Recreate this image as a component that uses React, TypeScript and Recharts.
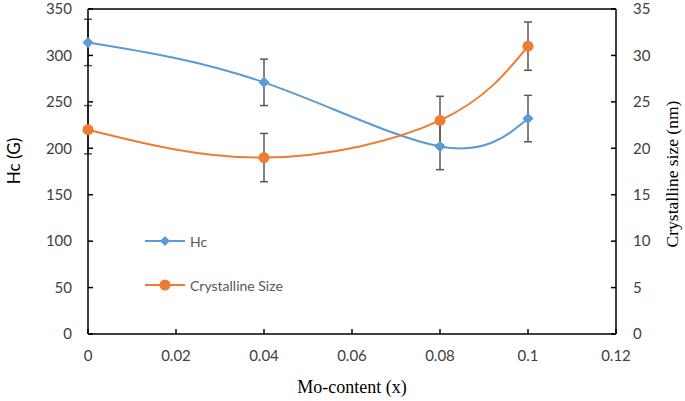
import React from 'react';
import { ComposedChart, Line, XAxis, YAxis, ErrorBar, ReferenceLine, Legend } from 'recharts';

const moContent = [0, 0.04, 0.08, 0.1];
const hcValues = [314, 271, 202, 232];
const hcErrors = [25, 25, 25, 25];
const sizeValues = [22, 19, 23, 31];
const sizeErrors = [2.6, 2.6, 2.6, 2.6];

const xTicks = [0, 0.02, 0.04, 0.06, 0.08, 0.1, 0.12];
const hcTicks = [0, 50, 100, 150, 200, 250, 300, 350];
const sizeTicks = [0, 5, 10, 15, 20, 25, 30, 35];

const BLUE = '#5B9BD5';
const ORANGE = '#ED7D31';
const TICK_FONT = { fontFamily: 'Lato', fontSize: 15, fill: '#404040' };

const data = moContent.map((x, i) => ({
  x,
  hc: hcValues[i],
  hcErr: hcErrors[i],
  size: sizeValues[i],
  sizeErr: sizeErrors[i],
}));

const Diamond = (props: any) => {
  const { cx, cy, index } = props;
  if (cx == null || cy == null) return <g key={`d-${index}`} />;
  return (
    <polygon
      key={`d-${index}`}
      points={`${cx},${cy - 5.5} ${cx + 5.5},${cy} ${cx},${cy + 5.5} ${cx - 5.5},${cy}`}
      fill={BLUE}
    />
  );
};

const Dot = (props: any) => {
  const { cx, cy, index } = props;
  if (cx == null || cy == null) return <g key={`c-${index}`} />;
  return <circle key={`c-${index}`} cx={cx} cy={cy} r={5.5} fill={ORANGE} />;
};

const LegendBox = () => (
  <div style={{ fontFamily: 'Lato', fontSize: 14, color: '#595959' }}>
    {[
      { name: 'Hc', color: BLUE, shape: 'diamond' },
      { name: 'Crystalline Size', color: ORANGE, shape: 'circle' },
    ].map((item) => (
      <div key={item.name} style={{ display: 'flex', alignItems: 'center', height: 20, marginBottom: 24 }}>
        <svg width={42} height={14} style={{ marginRight: 3 }}>
          <line x1={0} y1={7} x2={40} y2={7} stroke={item.color} strokeWidth={2} />
          {item.shape === 'diamond' ? (
            <polygon points="20,2 25,7 20,12 15,7" fill={item.color} />
          ) : (
            <circle cx={20} cy={7} r={5.5} fill={item.color} />
          )}
        </svg>
        <span>{item.name}</span>
      </div>
    ))}
  </div>
);

export default function App() {
  return (
    <div style={{ position: 'absolute', left: 0, top: 0, width: 685, height: 401, background: '#fff' }}>
      <ComposedChart width={685} height={401} data={data} margin={{ top: 9, right: 19, bottom: 37, left: 28 }}>
        <XAxis
          type="number"
          dataKey="x"
          domain={[0, 0.12]}
          ticks={xTicks}
          height={30}
          tickSize={-5}
          tickMargin={21}
          tick={TICK_FONT}
          axisLine={{ stroke: '#000', strokeWidth: 1.5 }}
          tickLine={{ stroke: '#000', strokeWidth: 1.5 }}
          label={{
            content: (p: any) => (
              <text
                x={p.viewBox.x + p.viewBox.width / 2}
                y={p.viewBox.y + 59}
                textAnchor="middle"
                fontFamily="Liberation Serif"
                fontSize={18}
                fill="#000"
              >
                Mo-content (x)
              </text>
            ),
          }}
        />
        <YAxis
          yAxisId="left"
          type="number"
          domain={[0, 350]}
          ticks={hcTicks}
          width={60}
          tickSize={-5}
          tickMargin={21}
          tick={TICK_FONT}
          axisLine={{ stroke: '#000', strokeWidth: 1.5 }}
          tickLine={{ stroke: '#000', strokeWidth: 1.5 }}
          label={{
            content: () => {
              const cx = 13;
              const cy = 161;
              return (
                <text
                  x={cx}
                  y={cy}
                  transform={`rotate(-90, ${cx}, ${cy})`}
                  textAnchor="middle"
                  dominantBaseline="central"
                  fontFamily="Lato"
                  fontSize={17}
                  fill="#000"
                >
                  Hc (G)
                </text>
              );
            },
          }}
        />
        <YAxis
          yAxisId="right"
          orientation="right"
          type="number"
          domain={[0, 35]}
          ticks={sizeTicks}
          width={50}
          tickSize={-5}
          tickMargin={22}
          tick={TICK_FONT}
          axisLine={{ stroke: '#000', strokeWidth: 1.5 }}
          tickLine={{ stroke: '#000', strokeWidth: 1.5 }}
          label={{
            content: () => {
              const cx = 672;
              const cy = 174;
              return (
                <text
                  x={cx}
                  y={cy}
                  transform={`rotate(-90, ${cx}, ${cy})`}
                  textAnchor="middle"
                  dominantBaseline="central"
                  fontFamily="Liberation Serif"
                  fontSize={17.5}
                  fill="#000"
                >
                  Crystalline size (nm)
                </text>
              );
            },
          }}
        />
        <ReferenceLine yAxisId="left" y={350} stroke="#000" strokeWidth={1.5} />
        <Legend
          layout="vertical"
          align="center"
          verticalAlign="middle"
          wrapperStyle={{ left: 145, top: 231, width: 200 }}
          content={<LegendBox />}
        />
        <Line
          yAxisId="left"
          type="natural"
          dataKey="hc"
          name="Hc"
          stroke={BLUE}
          strokeWidth={2}
          dot={Diamond}
          activeDot={false}
          isAnimationActive={false}
        >
          <ErrorBar dataKey="hcErr" direction="y" width={4} stroke="#595959" strokeWidth={1.5} isAnimationActive={false} />
        </Line>
        <Line
          yAxisId="right"
          type="natural"
          dataKey="size"
          name="Crystalline Size"
          stroke={ORANGE}
          strokeWidth={2}
          dot={Dot}
          activeDot={false}
          isAnimationActive={false}
        >
          <ErrorBar dataKey="sizeErr" direction="y" width={4} stroke="#595959" strokeWidth={1.5} isAnimationActive={false} />
        </Line>
      </ComposedChart>
    </div>
  );
}
